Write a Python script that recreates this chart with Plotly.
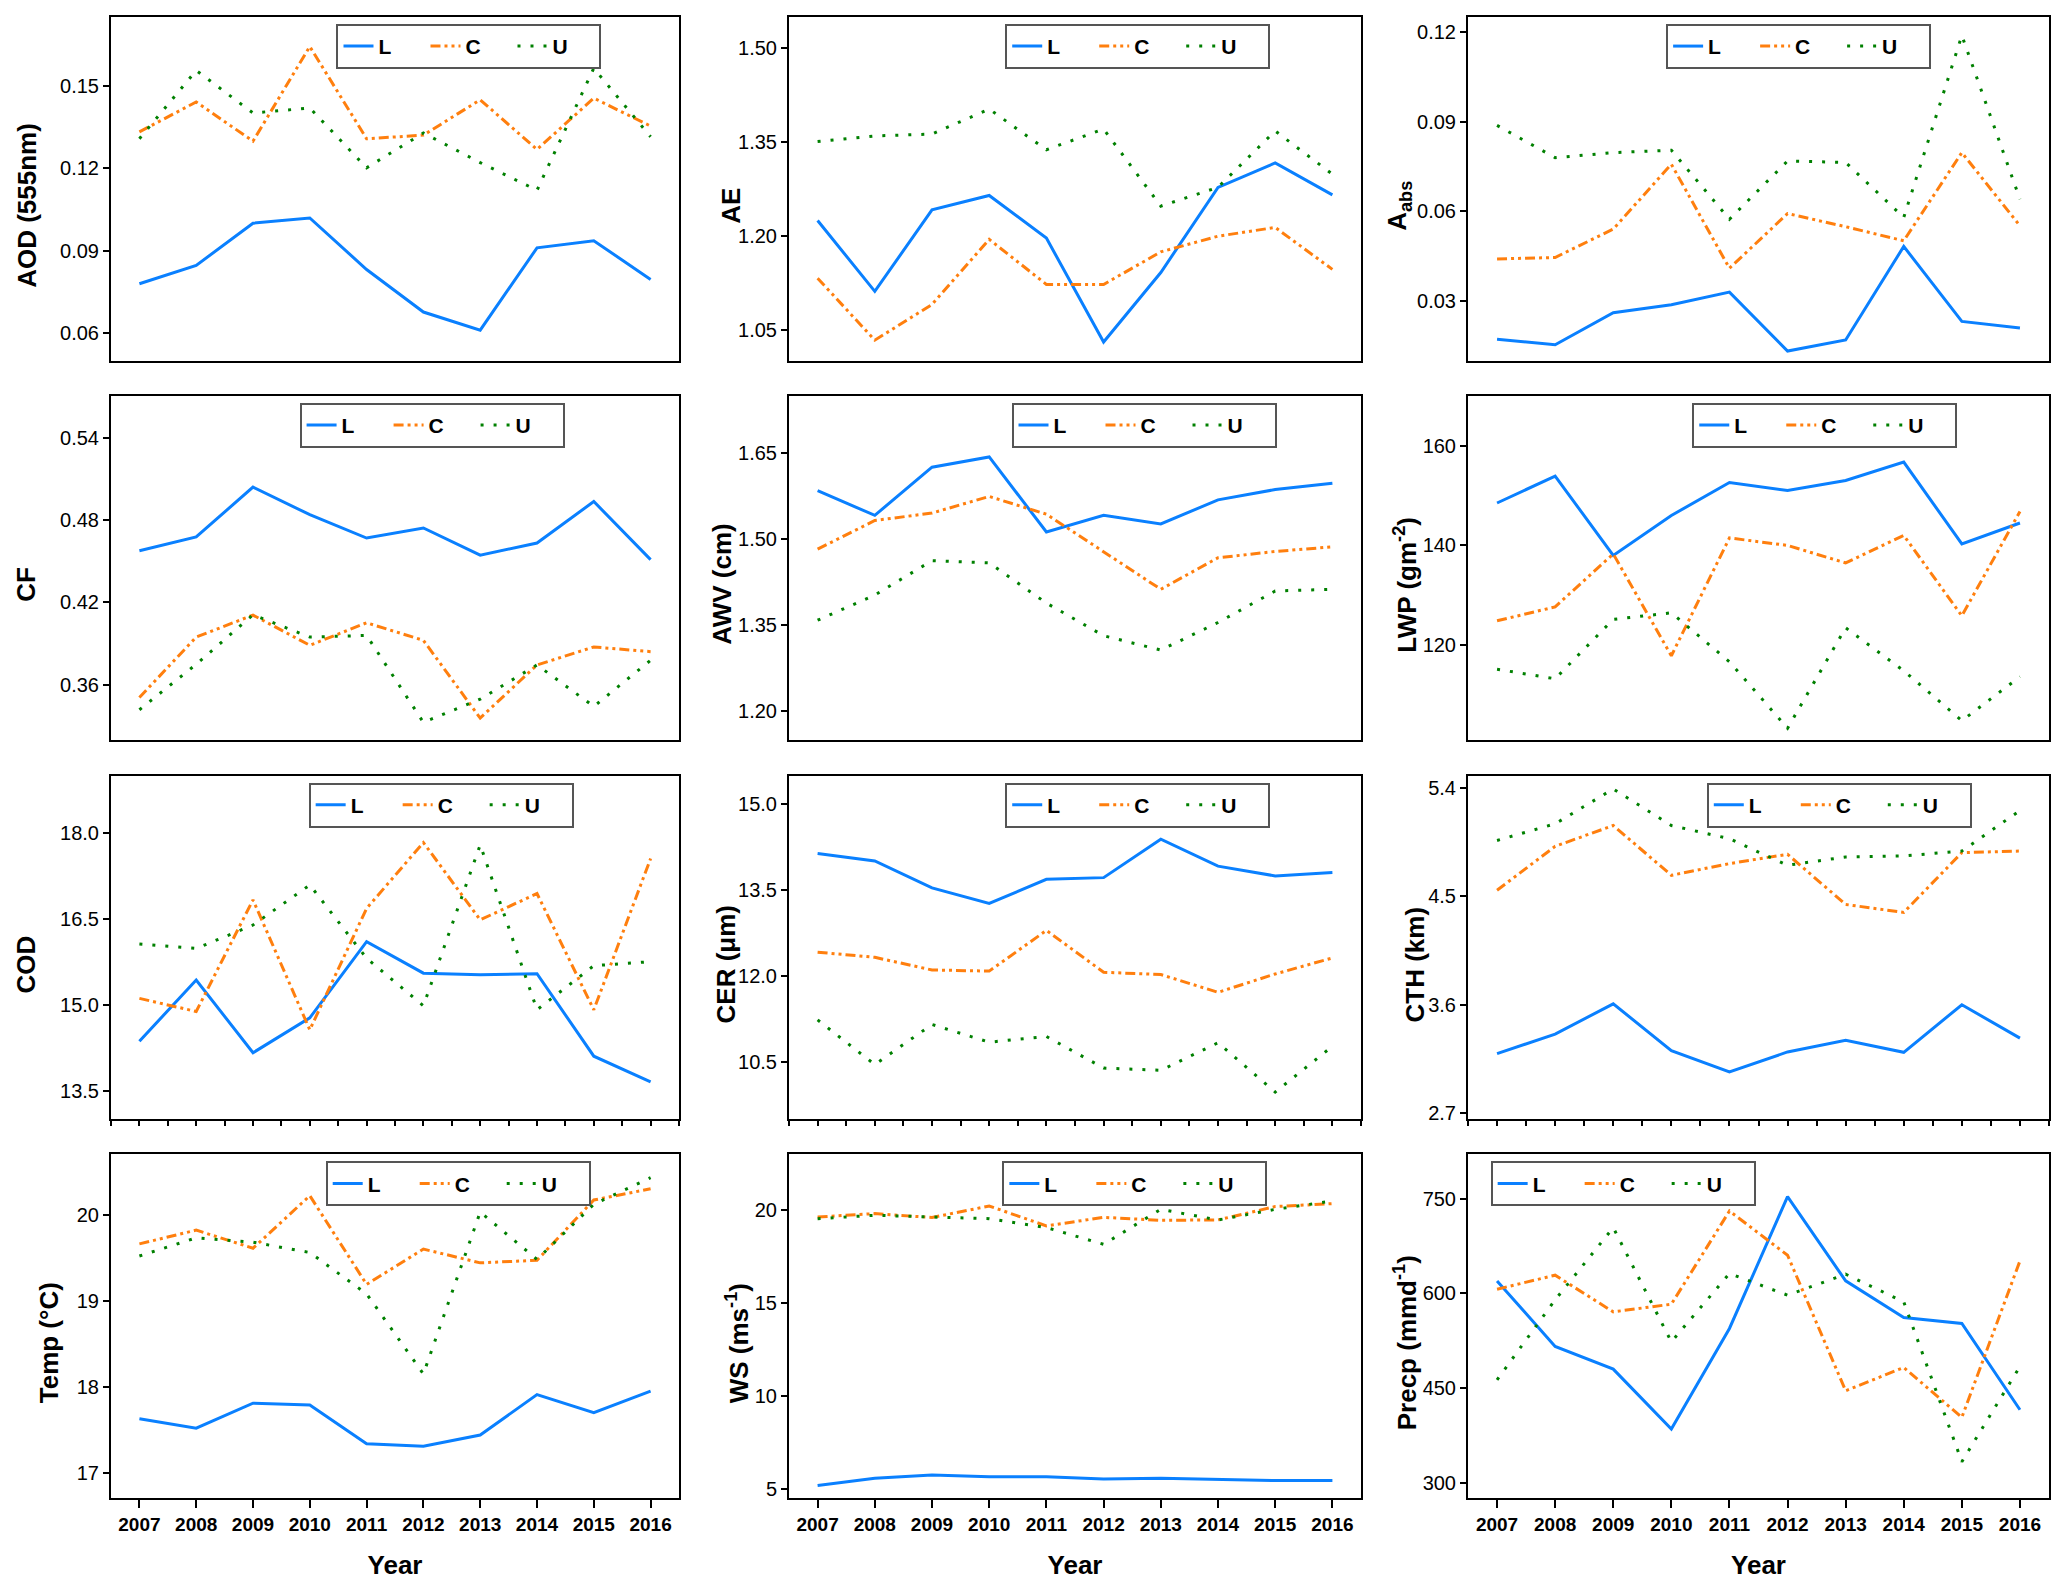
import plotly.graph_objects as go

years = [2007, 2008, 2009, 2010, 2011, 2012, 2013, 2014, 2015, 2016]
series_names = ["L", "C", "U"]

aod_L = [0.0779, 0.0846, 0.1000, 0.1019, 0.0831, 0.0676, 0.0610, 0.0910, 0.0936, 0.0795]
aod_C = [0.1333, 0.1442, 0.1299, 0.1644, 0.1308, 0.1321, 0.1450, 0.1269, 0.1456, 0.1354]
aod_U = [0.1308, 0.1557, 0.1402, 0.1420, 0.1202, 0.1329, 0.1221, 0.1120, 0.1565, 0.1315]
aod_ticks = [0.06, 0.09, 0.12, 0.15]

ae_L = [1.224, 1.111, 1.241, 1.264, 1.196, 1.030, 1.141, 1.277, 1.316, 1.265]
ae_C = [1.132, 1.033, 1.090, 1.194, 1.122, 1.122, 1.174, 1.199, 1.213, 1.146]
ae_U = [1.350, 1.359, 1.362, 1.402, 1.337, 1.370, 1.247, 1.277, 1.367, 1.298]
ae_ticks = [1.05, 1.20, 1.35, 1.50]

aabs_L = [0.0171, 0.0153, 0.0260, 0.0287, 0.0329, 0.0132, 0.0169, 0.0482, 0.0231, 0.0209]
aabs_C = [0.0440, 0.0445, 0.0540, 0.0757, 0.0409, 0.0592, 0.0548, 0.0501, 0.0796, 0.0551]
aabs_U = [0.0887, 0.0779, 0.0796, 0.0804, 0.0573, 0.0768, 0.0763, 0.0579, 0.1188, 0.0640]
aabs_ticks = [0.03, 0.06, 0.09, 0.12]

cf_L = [0.4577, 0.4677, 0.5040, 0.4839, 0.4669, 0.4742, 0.4544, 0.4633, 0.4935, 0.4512]
cf_C = [0.3508, 0.3948, 0.4108, 0.3888, 0.4052, 0.3924, 0.3358, 0.3745, 0.3876, 0.3842]
cf_U = [0.3419, 0.3750, 0.4110, 0.3948, 0.3960, 0.3327, 0.3496, 0.3745, 0.3443, 0.3779]
cf_ticks = [0.36, 0.42, 0.48, 0.54]

awv_L = [1.584, 1.541, 1.625, 1.643, 1.512, 1.541, 1.526, 1.568, 1.586, 1.597]
awv_C = [1.482, 1.532, 1.545, 1.574, 1.543, 1.477, 1.412, 1.467, 1.478, 1.486]
awv_U = [1.358, 1.402, 1.462, 1.458, 1.388, 1.331, 1.306, 1.354, 1.409, 1.412]
awv_ticks = [1.20, 1.35, 1.50, 1.65]

lwp_L = [148.5, 153.9, 138.0, 146.0, 152.6, 151.0, 153.0, 156.7, 140.3, 144.5]
lwp_C = [124.9, 127.7, 138.3, 117.9, 141.5, 140.0, 136.5, 142.0, 125.9, 146.8]
lwp_U = [115.2, 113.3, 125.2, 126.5, 116.7, 103.4, 123.5, 114.9, 104.9, 113.7]
lwp_ticks = [120, 140, 160]

cod_L = [14.36, 15.43, 14.16, 14.77, 16.10, 15.55, 15.52, 15.54, 14.10, 13.65]
cod_C = [15.11, 14.88, 16.83, 14.56, 16.68, 17.83, 16.48, 16.94, 14.91, 17.55]
cod_U = [16.06, 15.98, 16.39, 17.09, 15.81, 14.98, 17.79, 14.91, 15.68, 15.75]
cod_ticks = [13.5, 15.0, 16.5, 18.0]

cer_L = [14.14, 14.01, 13.54, 13.27, 13.69, 13.72, 14.39, 13.92, 13.75, 13.81]
cer_C = [12.42, 12.33, 12.11, 12.09, 12.80, 12.07, 12.03, 11.72, 12.04, 12.32]
cer_U = [11.24, 10.46, 11.16, 10.85, 10.95, 10.40, 10.36, 10.84, 9.98, 10.78]
cer_ticks = [10.5, 12.0, 13.5, 15.0]

cth_L = [3.196, 3.358, 3.609, 3.221, 3.044, 3.210, 3.306, 3.207, 3.601, 3.325]
cth_C = [4.551, 4.915, 5.088, 4.675, 4.772, 4.849, 4.433, 4.367, 4.863, 4.876]
cth_U = [4.964, 5.102, 5.391, 5.088, 4.978, 4.758, 4.827, 4.835, 4.876, 5.212]
cth_ticks = [2.7, 3.6, 4.5, 5.4]

temp_L = [17.63, 17.52, 17.81, 17.79, 17.34, 17.31, 17.44, 17.91, 17.70, 17.95]
temp_C = [19.66, 19.82, 19.61, 20.22, 19.19, 19.60, 19.44, 19.47, 20.17, 20.30]
temp_U = [19.52, 19.73, 19.68, 19.56, 19.08, 18.15, 20.03, 19.48, 20.12, 20.43]
temp_ticks = [17, 18, 19, 20]

ws_L = [5.18, 5.57, 5.75, 5.66, 5.65, 5.54, 5.57, 5.50, 5.45, 5.45]
ws_C = [19.64, 19.82, 19.61, 20.23, 19.16, 19.62, 19.46, 19.48, 20.20, 20.36]
ws_U = [19.55, 19.73, 19.64, 19.55, 19.07, 18.17, 20.05, 19.48, 20.05, 20.50]
ws_ticks = [5, 10, 15, 20]

precp_L = [619.8, 516.0, 480.2, 385.4, 544.5, 753.1, 619.8, 561.9, 552.4, 415.9]
precp_C = [606.6, 628.8, 570.8, 582.9, 730.4, 660.4, 445.9, 482.8, 403.8, 651.4]
precp_U = [463.3, 589.8, 704.1, 523.4, 631.4, 597.2, 630.3, 586.6, 333.7, 484.4]
precp_ticks = [300, 450, 600, 750]

# (y title, series, tick values, y range, tick format, legend left (fraction of panel), title centre x px)
panels = [
    ("AOD (555nm)", [aod_L, aod_C, aod_U], aod_ticks, [0.0498, 0.1752], ".2f", 0.397, 27),
    ("AE", [ae_L, ae_C, ae_U], ae_ticks, [1.000, 1.549], ".2f", 0.378, 731),
    ("A<sub>abs</sub>", [aabs_L, aabs_C, aabs_U], aabs_ticks, [0.0099, 0.125], ".2f", 0.341, 1399),
    ("CF", [cf_L, cf_C, cf_U], cf_ticks, [0.3201, 0.5705], ".2f", 0.332, 26),
    ("AWV (cm)", [awv_L, awv_C, awv_U], awv_ticks, [1.1496, 1.7497], ".2f", 0.389, 722),
    ("LWP (gm<sup>-2</sup>)", [lwp_L, lwp_C, lwp_U], lwp_ticks, [101.1, 169.98], "d", 0.386, 1406),
    ("COD", [cod_L, cod_C, cod_U], cod_ticks, [12.995, 19.0], ".1f", 0.348, 26),
    ("CER (μm)", [cer_L, cer_C, cer_U], cer_ticks, [9.503, 15.5], ".1f", 0.378, 726),
    ("CTH (km)", [cth_L, cth_C, cth_U], cth_ticks, [2.65, 5.502], ".1f", 0.411, 1415),
    ("Temp (°C)", [temp_L, temp_C, temp_U], temp_ticks, [16.706, 20.70], "d", 0.378, 49),
    ("WS (ms<sup>-1</sup>)", [ws_L, ws_C, ws_U], ws_ticks, [4.498, 23.01], "d", 0.373, 737),
    ("Precp (mmd<sup>-1</sup>)", [precp_L, precp_C, precp_U], precp_ticks, [275.8, 820.0], "d", 0.039, 1405),
]

W, H = 2067, 1591
cols_px = [(111, 679), (789, 1361), (1468, 2049)]
rows_px = [(17, 362), (397, 742), (778, 1123), (1158, 1503)]

colors = ["#0A80FF", "#FF7F0E", "#008000"]
dashes = ["solid", "10px,4px,3px,4px,3px,4px", "3px,10px"]

NARROW = "Liberation Sans Narrow, Arial Narrow, Liberation Sans, Arial, sans-serif"
SANS = "Liberation Sans, Arial, sans-serif"

fig = go.Figure()
layout = dict(
    width=W, height=H,
    margin=dict(l=0, r=0, t=0, b=0),
    paper_bgcolor="white", plot_bgcolor="white",
    showlegend=True,
)
annotations = []

for i, (title, series, ticks, yr, fmt, legx, tx) in enumerate(panels):
    r, c = divmod(i, 3)
    k = i + 1
    xa = "xaxis" if k == 1 else f"xaxis{k}"
    ya = "yaxis" if k == 1 else f"yaxis{k}"
    xref = "x" if k == 1 else f"x{k}"
    yref = "y" if k == 1 else f"y{k}"
    lg = "legend" if k == 1 else f"legend{k}"
    x0, x1 = cols_px[c]
    y0, y1 = rows_px[r]
    for name, vals, col, dsh in zip(series_names, series, colors, dashes):
        fig.add_trace(go.Scatter(
            x=years, y=vals, name=name, mode="lines",
            line=dict(color=col, width=3, dash=dsh),
            xaxis=xref, yaxis=yref, legend=lg,
        ))
    xaxis = dict(
        domain=[x0 / W, x1 / W], anchor=yref,
        range=[2006.5, 2016.5],
        showline=True, mirror=True, linecolor="black", linewidth=2,
        showgrid=False, zeroline=False,
    )
    if r == 3:
        xaxis.update(
            tickmode="array", tickvals=years, ticktext=[str(y) for y in years],
            ticks="outside", ticklen=8, tickwidth=2, tickcolor="black",
            tickfont=dict(family=NARROW, size=19, color="black", weight="bold"),
            title=dict(text="Year", font=dict(family=SANS, size=26, color="black", weight="bold"), standoff=22),
        )
    elif r == 2:
        xaxis.update(
            tickmode="linear", tick0=2007, dtick=0.5,
            ticks="outside", ticklen=5, tickwidth=1.5, tickcolor="black",
            showticklabels=False,
        )
    else:
        xaxis.update(ticks="", showticklabels=False)
    yaxis = dict(
        domain=[1 - y1 / H, 1 - y0 / H], anchor=xref,
        range=yr, tickmode="array", tickvals=ticks,
        tickformat=fmt,
        showline=True, mirror=True, linecolor="black", linewidth=2,
        showgrid=False, zeroline=False,
        ticks="outside", ticklen=6, tickwidth=2, tickcolor="black",
        tickfont=dict(family=NARROW, size=20, color="black"),
    )
    layout[xa] = xaxis
    layout[ya] = yaxis
    layout[lg] = dict(
        x=(x0 + legx * (x1 - x0)) / W, y=1 - (y0 + 7) / H,
        xanchor="left", yanchor="top", orientation="h",
        bgcolor="white", bordercolor="#555555", borderwidth=2,
        font=dict(family=SANS, size=21, color="black", weight="bold"),
        entrywidth=42, itemwidth=30, tracegroupgap=0,
    )
    annotations.append(dict(
        text=title, xref="paper", yref="paper",
        x=tx / W, y=1 - ((y0 + y1) / 2 + 17) / H,
        xanchor="center", yanchor="middle", textangle=-90, showarrow=False,
        font=dict(family=SANS, size=26, color="black", weight="bold"),
    ))

layout["annotations"] = annotations
fig.update_layout(**layout)
fig.write_html(
    "out.html",
    config={"displayModeBar": False},
    post_script="document.body.style.margin='0';document.body.style.overflow='hidden';",
)
